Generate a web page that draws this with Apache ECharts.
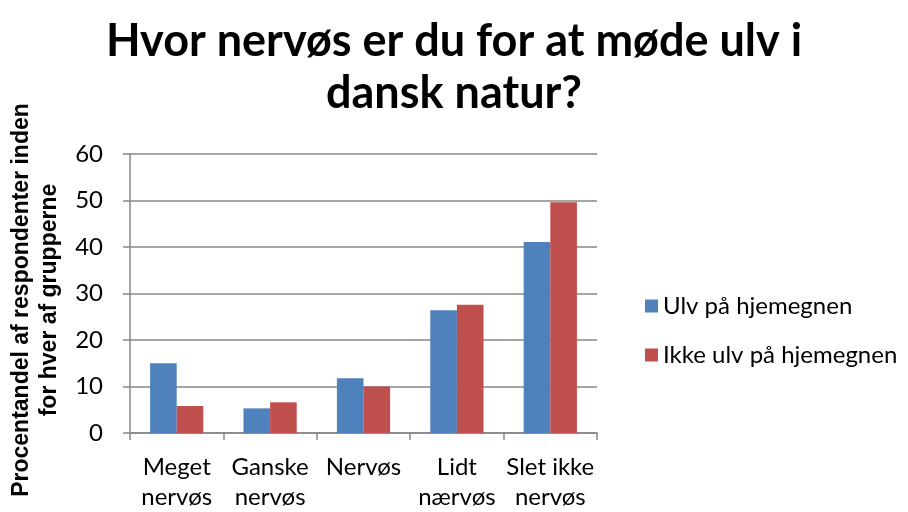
<!doctype html>
<html>
<head>
  <meta charset="utf-8">
  <script src="https://cdn.jsdelivr.net/npm/echarts@6/dist/echarts.min.js"></script>
  <style>
    html, body { margin: 0; width: 100%; height: 100%; background: #fff; }
    #main { width: 908px; height: 512px; }
  </style>
</head>
<body>
  <div id="main"></div>
  <script>
    var categories = ['Meget\nnervøs', 'Ganske\nnervøs', 'Nervøs', 'Lidt\nnærvøs', 'Slet ikke\nnervøs'];
    var ulvHjemegn = [15.0, 5.3, 11.8, 26.4, 41.1];
    var ikkeUlvHjemegn = [5.8, 6.6, 10.0, 27.6, 49.6];
    var seriesNames = ['Ulv på hjemegnen', 'Ikke ulv på hjemegnen'];

    var chart = echarts.init(document.getElementById('main'));
    var gray = '#878787';
    var option = {
      animation: false,
      textStyle: { fontFamily: 'Lato' },
      title: {
        text: 'Hvor nervøs er du for at møde ulv i\ndansk natur?',
        left: 'center',
        top: 10,
        textStyle: { fontSize: 45, fontWeight: 'bold', lineHeight: 52, color: '#000', fontFamily: 'Lato' }
      },
      legend: {
        orient: 'vertical',
        left: 640,
        top: 289,
        itemWidth: 13,
        itemHeight: 13,
        itemGap: 25,
        icon: 'rect',
        textStyle: { fontSize: 24, color: '#000', fontFamily: 'Lato' },
        data: seriesNames
      },
      grid: { left: 130, right: 311, top: 154, bottom: 77 },
      graphic: [{
        type: 'text',
        x: 36,
        y: 300,
        rotation: Math.PI / 2,
        style: {
          text: 'Procentandel af respondenter inden\nfor hver af grupperne',
          font: 'bold 23px "Liberation Sans"',
          lineHeight: 28,
          textAlign: 'center',
          textVerticalAlign: 'middle',
          fill: '#000'
        }
      }],
      xAxis: {
        type: 'category',
        data: categories,
        axisLine: { lineStyle: { color: gray, width: 1.5 } },
        axisTick: { show: true, length: 7, lineStyle: { color: gray, width: 1.5 } },
        axisLabel: { fontSize: 24, lineHeight: 30, color: '#000', margin: 19, interval: 0, fontFamily: 'Lato' }
      },
      yAxis: {
        type: 'value',
        min: 0,
        max: 60,
        interval: 10,
        axisLine: { show: true, lineStyle: { color: gray, width: 1.5 } },
        axisTick: { show: true, length: 7, lineStyle: { color: gray, width: 1.5 } },
        splitLine: { lineStyle: { color: gray, width: 1.5 } },
        axisLabel: { fontSize: 24, color: '#000', margin: 27, fontFamily: 'Lato' }
      },
      series: [{
        name: seriesNames[0],
        type: 'bar',
        data: ulvHjemegn,
        barGap: 0,
        barCategoryGap: '43%',
        itemStyle: { color: '#4F81BD' }
      }, {
        name: seriesNames[1],
        type: 'bar',
        data: ikkeUlvHjemegn,
        barGap: 0,
        barCategoryGap: '43%',
        itemStyle: { color: '#C0504D' }
      }]
    };
    chart.setOption(option);
  </script>
</body>
</html>
